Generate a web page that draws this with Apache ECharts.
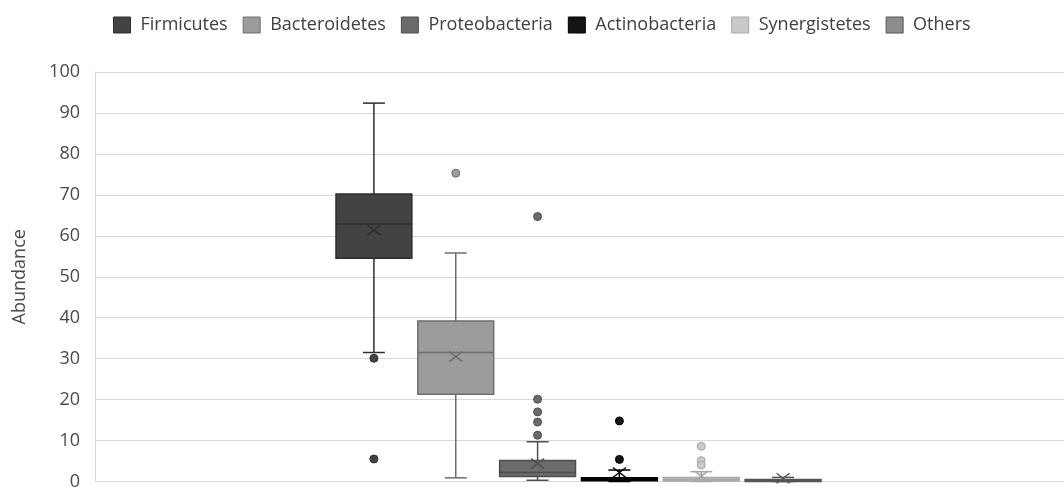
<!DOCTYPE html>
<html>
<head>
<meta charset="utf-8">
<script src="https://cdn.jsdelivr.net/npm/echarts@6/dist/echarts.min.js"></script>
<style>
html,body{margin:0;padding:0;background:#fff;}
#chart{width:1064px;height:487px;}
</style>
</head>
<body>
<div id="chart"></div>
<script>
// ---- data ----
var categories = ['Firmicutes', 'Bacteroidetes', 'Proteobacteria', 'Actinobacteria', 'Synergistetes', 'Others'];
var boxMin    = [31.5, 0.9, 0.3, 0.0, 0.0, 0.0];
var boxQ1     = [54.5, 21.3, 1.2, 0.2, 0.1, 0.0];
var boxMedian = [62.9, 31.5, 2.2, 0.5, 0.5, 0.2];
var boxQ3     = [70.2, 39.2, 5.1, 0.9, 1.0, 0.5];
var boxMax    = [92.4, 55.8, 9.7, 2.8, 2.4, 1.0];
var boxMean   = [61.4, 30.5, 4.4, 2.2, 1.3, 0.8];
var outliers  = [
  [30.1, 5.5],
  [75.3],
  [64.7, 20.1, 17.0, 14.5, 11.3],
  [14.8, 5.4],
  [8.6, 5.1, 4.0],
  []
];
var yTicks = [0, 10, 20, 30, 40, 50, 60, 70, 80, 90, 100];

// ---- styles ----
var fills   = ['#434343', '#9c9c9c', '#6b6b6b', '#141414', '#c9c9c9', '#8c8c8c'];
var borders = ['#2e2e2e', '#6e6e6e', '#4e4e4e', '#000000', '#a6a6a6', '#555555'];
var FONT = 'Open Sans';

var chart = echarts.init(document.getElementById('chart'), null, {renderer: 'canvas'});

function makeRender(idx) {
  return function (params, api) {
    var x = api.value(0);
    var pMin = api.coord([x, api.value(1)]);
    var pQ1 = api.coord([x, api.value(2)]);
    var pMed = api.coord([x, api.value(3)]);
    var pQ3 = api.coord([x, api.value(4)]);
    var pMax = api.coord([x, api.value(5)]);
    var pMean = api.coord([x, api.value(6)]);
    var band = api.size([1, 0])[0];
    var bw = band * 0.927;
    var half = bw / 2;
    var cap = 11;
    var cx = pMin[0];
    var stroke = borders[idx];
    var lw = 1.5;
    var ls = {stroke: stroke, lineWidth: lw};
    return {
      type: 'group',
      children: [
        {type: 'line', shape: {x1: cx, y1: pMax[1], x2: cx, y2: pQ3[1]}, style: ls},
        {type: 'line', shape: {x1: cx, y1: pQ1[1], x2: cx, y2: pMin[1]}, style: ls},
        {type: 'line', shape: {x1: cx - cap, y1: pMax[1], x2: cx + cap, y2: pMax[1]}, style: ls},
        {type: 'line', shape: {x1: cx - cap, y1: pMin[1], x2: cx + cap, y2: pMin[1]}, style: ls},
        {type: 'rect', shape: {x: cx - half, y: pQ3[1], width: bw, height: Math.max(pQ1[1] - pQ3[1], 1)},
          style: {fill: fills[idx], stroke: stroke, lineWidth: lw}},
        {type: 'line', shape: {x1: cx - half, y1: pMed[1], x2: cx + half, y2: pMed[1]}, style: ls},
        {type: 'line', shape: {x1: cx - 6.5, y1: pMean[1] - 5, x2: cx + 6.5, y2: pMean[1] + 5}, style: ls},
        {type: 'line', shape: {x1: cx - 6.5, y1: pMean[1] + 5, x2: cx + 6.5, y2: pMean[1] - 5}, style: ls}
      ]
    };
  };
}

var series = [];
categories.forEach(function (name, i) {
  series.push({
    name: name,
    type: 'custom',
    xAxisIndex: 1,
    yAxisIndex: 1,
    itemStyle: {color: fills[i], borderColor: borders[i]},
    renderItem: makeRender(i),
    encode: {x: 0, y: [1, 2, 3, 4, 5, 6]},
    data: [[i, boxMin[i], boxQ1[i], boxMedian[i], boxQ3[i], boxMax[i], boxMean[i]]],
    z: 3
  });
});
categories.forEach(function (name, i) {
  series.push({
    name: name,
    type: 'scatter',
    xAxisIndex: 1,
    yAxisIndex: 1,
    symbol: 'circle',
    symbolSize: 8,
    itemStyle: {color: fills[i], borderColor: borders[i], borderWidth: 1, opacity: 1},
    data: outliers[i].map(function (v) { return [i, v]; }),
    z: 4
  });
});

var option = {
  backgroundColor: '#ffffff',
  animation: false,
  textStyle: {fontFamily: FONT},
  legend: {
    left: 108,
    top: 11,
    icon: 'rect',
    itemWidth: 17,
    itemHeight: 16,
    itemGap: 15,
    textStyle: {fontFamily: FONT, fontSize: 18, color: '#404040', padding: [0, 0, 0, 5]},
    data: categories.map(function (n, i) {
      return {name: n, itemStyle: {color: fills[i], borderColor: borders[i], borderWidth: 1}};
    })
  },
  grid: [
    {left: 95, right: 0, top: 72, bottom: 5.5, containLabel: false, outerBoundsMode: 'none'},
    {left: 333, width: 491, top: 72, bottom: 5.5, containLabel: false, outerBoundsMode: 'none'}
  ],
  xAxis: [
    {gridIndex: 0, type: 'value', min: 0, max: 1, show: false},
    {gridIndex: 1, type: 'category', data: categories, show: false}
  ],
  yAxis: [
    {
      gridIndex: 0,
      type: 'value',
      min: 0,
      max: 100,
      interval: 10,
      name: 'Abundance',
      nameLocation: 'middle',
      nameRotate: 90,
      nameGap: 66,
      nameTextStyle: {fontFamily: FONT, fontSize: 18, color: '#4a4a4a'},
      axisLine: {show: true, lineStyle: {color: '#d9d9d9', width: 1}},
      axisTick: {show: false},
      axisLabel: {
        fontFamily: FONT, fontSize: 18, color: '#4a4a4a', margin: 15,
        formatter: function (v) { return yTicks.indexOf(v) >= 0 ? String(v) : ''; }
      },
      splitLine: {show: true, lineStyle: {color: '#d9d9d9', width: 1}}
    },
    {gridIndex: 1, type: 'value', min: 0, max: 100, show: false}
  ],
  series: series
};
chart.setOption(option);
</script>
</body>
</html>
